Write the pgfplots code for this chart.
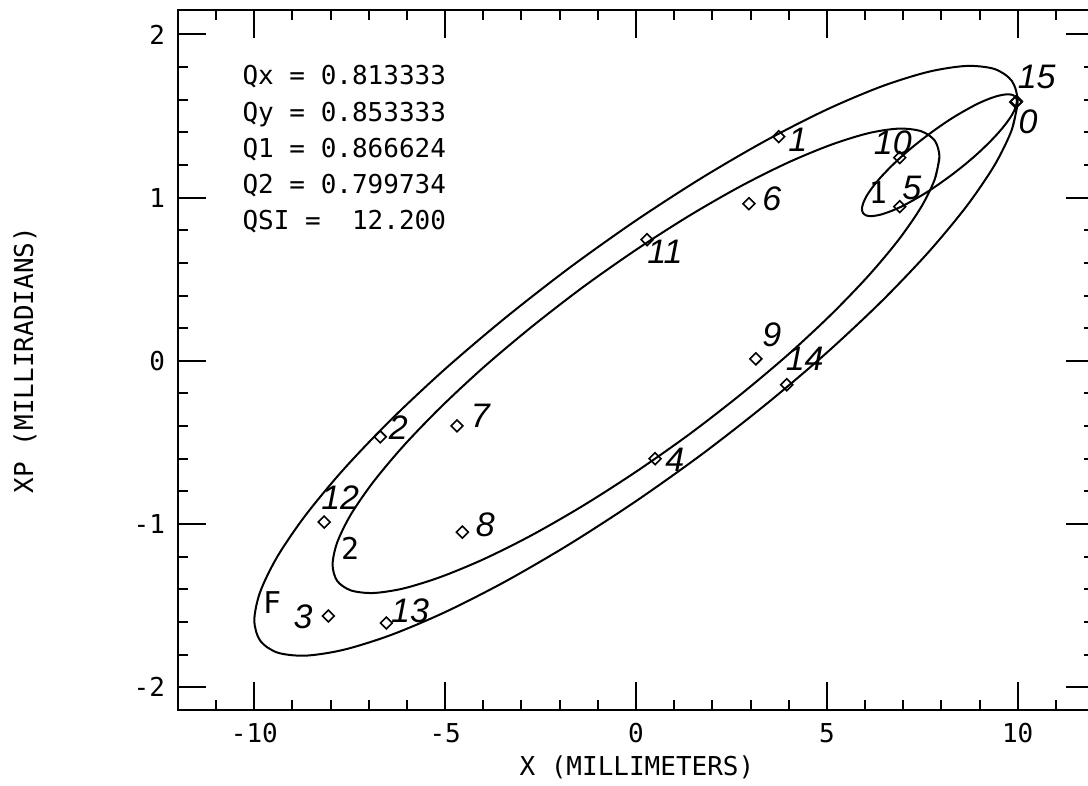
\documentclass[border=0pt]{standalone}
\usepackage{pgfplots}
\pgfplotsset{compat=1.18}
\usepackage{fontspec}
\setmainfont{DejaVu Sans Mono}
\newfontfamily\hand{Liberation Sans}
\begin{document}
\begin{tikzpicture}
\begin{axis}[name=ax, scale only axis, width=458pt, height=350pt,
  xmin=-12, xmax=12, ymin=-2.14, ymax=2.15,
  axis line style={line width=1.25pt},
  xtick={-10,-5,0,5,10}, xticklabels={-10,-5,0,5,10},
  ytick={-2,-1,0,1,2}, yticklabels={-2,-1,0,1,2},
  minor xtick={-11,-9,-8,-7,-6,-4,-3,-2,-1,1,2,3,4,6,7,8,9,11},
  minor ytick={-1.8,-1.6,-1.4,-1.2,-0.8,-0.6,-0.4,-0.2,0.2,0.4,0.6,0.8,1.2,1.4,1.6,1.8},
  tick align=inside, major tick length=14pt, minor tick length=5pt,
  every tick/.append style={black, line width=1pt},
  tick label style={font=\fontsize{13}{15}\selectfont},
  xticklabel style={yshift=-3pt},
  yticklabel style={xshift=-3pt},
  xlabel={X (MILLIMETERS)}, ylabel={XP (MILLIRADIANS)},
  label style={font=\fontsize{13}{15}\selectfont},
  xlabel style={at={(axis description cs:0.501,-0.0814)}, anchor=center},
  ylabel style={at={(axis description cs:-0.167,0.5)}, anchor=center},
  clip=false,
]
% outer ellipse F
\addplot[black, line width=1pt, smooth] coordinates {
(10,1.590) (9.848,1.417) (9.397,1.200) (8.660,0.947) (7.660,0.665) (6.428,0.363)
(5.0,0.050) (3.420,-0.264) (1.737,-0.571) (0,-0.860) (-1.737,-1.123) (-3.420,-1.352)
(-5.0,-1.540) (-6.428,-1.681) (-7.660,-1.771) (-8.660,-1.807) (-9.397,-1.788) (-9.848,-1.715)
(-10,-1.590) (-9.848,-1.417) (-9.397,-1.200) (-8.660,-0.947) (-7.660,-0.665) (-6.428,-0.363)
(-5.0,-0.050) (-3.420,0.264) (-1.737,0.571) (0,0.860) (1.737,1.123) (3.420,1.352)
(5.0,1.540) (6.428,1.681) (7.660,1.771) (8.660,1.807) (9.397,1.788) (9.848,1.715)
(10,1.590) (9.848,1.417)};
% inner ellipse 2
\addplot[black, line width=1pt, smooth] coordinates {
(7.95,1.25) (7.829,1.113) (7.471,0.942) (6.885,0.743) (6.090,0.521) (5.110,0.283)
(3.975,0.036) (2.719,-0.211) (1.381,-0.453) (0,-0.68) (-1.381,-0.887) (-2.719,-1.067)
(-3.975,-1.214) (-5.110,-1.324) (-6.090,-1.395) (-6.885,-1.423) (-7.471,-1.407) (-7.829,-1.349)
(-7.95,-1.25) (-7.829,-1.113) (-7.471,-0.942) (-6.885,-0.743) (-6.090,-0.521) (-5.110,-0.283)
(-3.975,-0.036) (-2.719,0.211) (-1.381,0.453) (0,0.68) (1.381,0.887) (2.719,1.067)
(3.975,1.214) (5.110,1.324) (6.090,1.395) (6.885,1.423) (7.471,1.407) (7.829,1.349)
(7.95,1.25) (7.829,1.113)};
% small ellipse 1
\addplot[black, line width=1pt, smooth] coordinates {
(9.980,1.590) (9.949,1.555) (9.858,1.510) (9.708,1.458) (9.505,1.400) (9.255,1.338)
(8.965,1.273) (8.644,1.208) (8.303,1.145) (7.95,1.085) (7.598,1.030) (7.256,0.983)
(6.935,0.943) (6.645,0.914) (6.395,0.895) (6.192,0.887) (6.042,0.890) (5.951,0.905)
(5.920,0.930) (5.951,0.965) (6.042,1.010) (6.192,1.062) (6.395,1.120) (6.645,1.182)
(6.935,1.247) (7.256,1.312) (7.598,1.375) (7.95,1.435) (8.303,1.490) (8.644,1.537)
(8.965,1.577) (9.255,1.606) (9.505,1.625) (9.708,1.633) (9.858,1.630) (9.949,1.615)
(9.980,1.590) (9.949,1.555)};
% turn points
\addplot[only marks, mark=square, mark size=2.1pt, mark options={rotate=45, line width=0.8pt, black}] coordinates {
(9.95,1.585) (9.97,1.59) (3.74,1.374) (-6.70,-0.466) (-8.06,-1.564) (0.50,-0.60)
(6.91,0.945) (2.96,0.963) (-4.69,-0.399) (-4.55,-1.05) (3.14,0.012) (6.91,1.245)
(0.29,0.742) (-8.17,-0.988) (-6.54,-1.607) (3.95,-0.147)};
% handwritten labels
\begin{scope}[every node/.style={font=\hand\itshape\fontsize{17}{19}\selectfont, inner sep=0pt}]
\node at (axis cs:10.27,1.466) {0};
\node at (axis cs:10.5,1.742) {15};
\node at (axis cs:4.24,1.356) {1};
\node at (axis cs:-6.23,-0.41) {2};
\node at (axis cs:-8.72,-1.57) {3};
\node at (axis cs:1.02,-0.607) {4};
\node at (axis cs:7.23,1.06) {5};
\node at (axis cs:3.56,0.99) {6};
\node at (axis cs:-4.08,-0.34) {7};
\node at (axis cs:-3.95,-1.006) {8};
\node at (axis cs:3.56,0.16) {9};
\node at (axis cs:6.73,1.337) {10};
\node at (axis cs:0.76,0.67) {11};
\node at (axis cs:-7.75,-0.84) {12};
\node at (axis cs:-5.92,-1.53) {13};
\node at (axis cs:4.42,0.01) {14};
\end{scope}
% curve labels
\begin{scope}[every node/.style={font=\fontsize{15}{17}\selectfont, inner sep=0pt}]
\node at (axis cs:6.34,1.03) {1};
\node at (axis cs:-7.49,-1.15) {2};
\node at (axis cs:-9.53,-1.48) {F};
\end{scope}
% tune box
\begin{scope}[every node/.style={font=\fontsize{13}{15}\selectfont, inner sep=0pt, anchor=base west}]
\node at (axis cs:-10.32,1.691) {Qx = 0.813333};
\node at (axis cs:-10.32,1.469) {Qy = 0.853333};
\node at (axis cs:-10.32,1.247) {Q1 = 0.866624};
\node at (axis cs:-10.32,1.025) {Q2 = 0.799734};
\node at (axis cs:-10.32,0.803) {QSI =\ \ 12.200};
\end{scope}
\end{axis}
\pgfresetboundingbox
\path[use as bounding box] ([shift={(-89pt,-38pt)}]ax.south west) rectangle ([shift={(-3pt,5pt)}]ax.north east);
\end{tikzpicture}
\end{document}
